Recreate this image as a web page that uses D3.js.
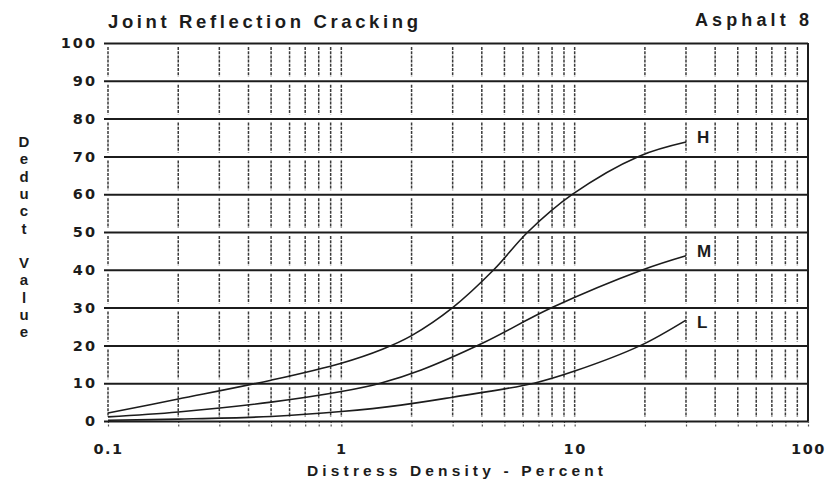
<!DOCTYPE html>
<html>
<head>
<meta charset="utf-8">
<script src="https://cdn.jsdelivr.net/npm/d3@7"></script>
<style>
  html, body { margin: 0; padding: 0; background: #fff; }
  svg { display: block; }
  text { fill: #1c1c1c; font-family: "Liberation Sans", "DejaVu Sans", sans-serif; }
</style>
</head>
<body>
<svg id="chart" width="825" height="479"></svg>
<script>
// Deduct value curves for joint reflection cracking (asphalt), by severity level
const densityH = [0.1, 0.2, 0.5, 1, 1.5, 2, 3, 4.5, 6.3, 9.8, 18.8, 30];
const deductH  = [2.1, 5.8, 10.8, 15.3, 19.0, 22.6, 30, 40, 50, 60, 70, 73.8];

const densityM = [0.1, 0.2, 0.5, 1, 1.47, 2.2, 4.0, 8.0, 19.6, 30];
const deductM  = [1.1, 2.4, 5.0, 7.8, 10, 13.5, 20.5, 30, 40, 43.7];

const densityL = [0.1, 0.2, 0.5, 1, 1.8, 3, 6.7, 10, 19.2, 30];
const deductL  = [0.2, 0.5, 1.2, 2.5, 4.2, 6.3, 10, 13.2, 20, 26.7];

const severityLabels = ["H", "M", "L"];
const yTickValues = [0, 10, 20, 30, 40, 50, 60, 70, 80, 90, 100];
const xTickValues = [0.1, 1, 10, 100];
const xTickLabels = ["0.1", "1", "10", "100"];
const titleText = "Joint Reflection Cracking";
const subtitleText = "Asphalt 8";
const xTitle = "Distress Density - Percent";
const yTitle = "Deduct Value";

const svg = d3.select("#chart");
const ink = "#1c1c1c";
const numFont = "'DejaVu Sans', 'Liberation Sans', sans-serif";

const x = d3.scaleLog().domain([0.1, 100]).range([108, 808]);
const y = d3.scaleLinear().domain([0, 100]).range([421, 43]);

// minor log grid positions: 1..9 in every decade, plus 100
const gridX = [];
[0.1, 1, 10].forEach(d => { for (let m = 1; m <= 9; m++) gridX.push(+(m * d).toPrecision(3)); });
gridX.push(100);

// broken vertical grid segments inside each 10-unit band
const bands = d3.range(0, 100, 10);
const gv = svg.append("g").attr("class", "vgrid");
gridX.forEach(v => {
  if (v === 100) return;
  bands.forEach(b => {
    gv.append("line")
      .attr("x1", x(v)).attr("x2", x(v))
      .attr("y1", y(b + 10) + 4).attr("y2", y(b) - 4)
      .attr("stroke", "#3a3a3a")
      .attr("stroke-width", 1.5)
      .attr("stroke-dasharray", "3,1.2");
  });
});

// right border at 100 %
svg.append("line")
  .attr("x1", x(100)).attr("x2", x(100))
  .attr("y1", y(100)).attr("y2", y(0))
  .attr("stroke", ink).attr("stroke-width", 2);

// short tick marks under the zero line
const tickAxis = d3.axisBottom(x).tickValues(gridX).tickSize(6).tickFormat("");
const gt = svg.append("g").attr("transform", `translate(0,${y(0)})`).call(tickAxis);
gt.select(".domain").remove();
gt.selectAll(".tick line").attr("stroke", "#555").attr("stroke-width", 1.2).attr("stroke-dasharray", "2,1.5");

// horizontal grid lines and y labels
const yAxis = d3.axisLeft(y).tickValues(yTickValues).tickSize(-(x(100) - 104)).tickPadding(7);
const gy = svg.append("g").attr("transform", "translate(104,0)").call(yAxis);
gy.select(".domain").remove();
gy.selectAll(".tick line").attr("stroke", ink).attr("stroke-width", 2);
gy.selectAll(".tick text")
  .attr("fill", ink)
  .attr("font-family", null)
  .style("font-family", numFont)
  .style("font-size", "14.5px")
  .style("font-weight", "bold")
  .style("letter-spacing", "2px");

// x labels
const xAxis = d3.axisBottom(x).tickValues(xTickValues).tickSize(0).tickPadding(23)
  .tickFormat((d, i) => xTickLabels[i]);
const gx = svg.append("g").attr("transform", `translate(0,${y(0)})`).call(xAxis);
gx.select(".domain").remove();
gx.selectAll(".tick text")
  .attr("fill", ink)
  .attr("font-family", null)
  .style("font-family", numFont)
  .style("font-size", "14.5px")
  .style("font-weight", "bold")
  .style("letter-spacing", "1.5px");

// curves
const line = d3.line().x(d => x(d[0])).y(d => y(d[1])).curve(d3.curveCatmullRom.alpha(0.5));
const series = [
  { xs: densityH, ys: deductH },
  { xs: densityM, ys: deductM },
  { xs: densityL, ys: deductL }
];
const labelDy = [1, 1, 8];
series.forEach((s, i) => {
  const pts = s.xs.map((v, j) => [v, s.ys[j]]);
  svg.append("path")
    .attr("d", line(pts))
    .attr("fill", "none")
    .attr("stroke", ink)
    .attr("stroke-width", 1.6);
  const last = pts[pts.length - 1];
  svg.append("text")
    .attr("x", x(last[0]) + 11)
    .attr("y", y(last[1]) + labelDy[i])
    .style("font-size", "17px")
    .style("font-weight", "bold")
    .text(severityLabels[i]);
});

// titles
svg.append("text")
  .attr("x", 108).attr("y", 28)
  .attr("textLength", 310).attr("lengthAdjust", "spacing")
  .style("font-size", "18.5px")
  .style("font-weight", "bold")
  .text(titleText);

svg.append("text")
  .attr("x", 695).attr("y", 26)
  .attr("textLength", 114).attr("lengthAdjust", "spacing")
  .style("font-size", "18px")
  .style("font-weight", "bold")
  .text(subtitleText);

svg.append("text")
  .attr("x", 307).attr("y", 476)
  .attr("textLength", 296).attr("lengthAdjust", "spacing")
  .style("font-size", "15.5px")
  .style("font-weight", "bold")
  .text(xTitle);

// stacked vertical y title
const yChars = yTitle.split("");
svg.append("g").selectAll("text")
  .data(yChars)
  .join("text")
  .attr("x", 24)
  .attr("y", (d, i) => 147 + 17.3 * i)
  .attr("text-anchor", "middle")
  .style("font-size", "15px")
  .style("font-weight", "bold")
  .text(d => d === " " ? "" : d);
</script>
</body>
</html>
